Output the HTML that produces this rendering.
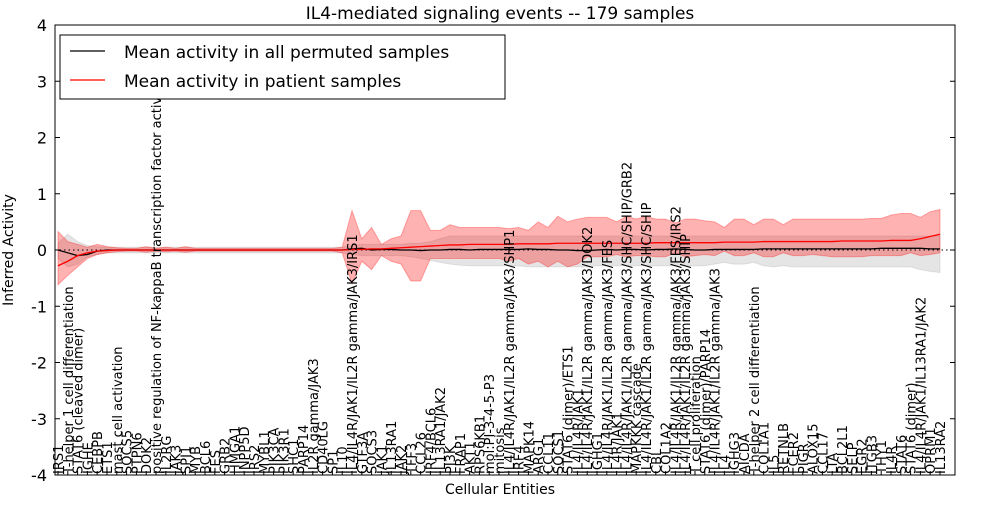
<!DOCTYPE html>
<html><head><meta charset="utf-8"><style>
body{margin:0;background:#fff;}
svg text{font-family:"DejaVu Sans","Liberation Sans",sans-serif;}
</style></head><body>
<svg id="c" width="1000" height="500" xmlns="http://www.w3.org/2000/svg"></svg>
<script>
const labels=["IRS1","T-helper 1 cell differentiation","STAT6 (cleaved dimer)","IGHE","CEBPB","ETS1","mast cell activation","SOCS5","PTPN6","DOK2","positive regulation of NF-kappaB transcription factor activity","IL2RG","JAK3","SPI1","MYB","BCL6","FES","GRB2","HMGA1","INPP5D","IRS2","MYBL1","PIK3CA","PIK3R1","SHC1","PARP14","IL2R gamma/JAK3","CD40LG","SP1","IL10","IL4/IL4R/JAK1/IL2R gamma/JAK3/IRS1","GTF3A","SOCS3","JAK1","IL13RA1","JAK2","TFF3","CCL26","IRF4/BCL6","IL13RA1/JAK2","PI3K","FRAP1","AKT1","RPS6KB1","mol:PI-3-4-5-P3","mitosis","IL4/IL4R/JAK1/IL2R gamma/JAK3/SHP1","IRF4","MAPK14","ARG1","CCL11","SOCS1","STAT6 (dimer)/ETS1","IL4/IL4R/JAK1","IL4/IL4R/JAK1/IL2R gamma/JAK3/DOK2","IGHG1","IL4/IL4R/JAK1/IL2R gamma/JAK3/FES","IL4R/JAK1","IL4/IL4R/JAK1/IL2R gamma/JAK3/SHC/SHIP/GRB2","MAPKKK cascade","IL4/IL4R/JAK1/IL2R gamma/JAK3/SHC/SHIP","CBL","COL1A2","IL4/IL4R/JAK1/IL2R gamma/JAK3/FES/IRS2","IL4/IL4R/JAK1/IL2R gamma/JAK3/SHIP","T cell proliferation","STAT6 (dimer)/PARP14","IL4/IL4R/JAK1/IL2R gamma/JAK3","IL4","IGHG3","AICDA","T-helper 2 cell differentiation","COL1A1","IL5","RETNLB","FCER2","PIGR","ALOX15","CCL17","LTA","BCL2L1","SELP","EGR2","ITGB3","THY1","IL4R","STAT6","STAT6 (dimer)","IL4/IL4R/JAK1/IL13RA1/JAK2","OPRM1","IL13RA2"];
const patientMean=[-0.28,-0.2,-0.1,-0.05,-0.02,-0.01,0,0,0,0,0,0,0,0,0,0,0,0,0,0,0,0,0,0,0,0,0,0,0,0,0.01,0.01,0.02,0.02,0.03,0.04,0.05,0.06,0.07,0.08,0.09,0.09,0.1,0.1,0.1,0.1,0.1,0.11,0.11,0.11,0.11,0.12,0.12,0.12,0.12,0.12,0.12,0.12,0.12,0.12,0.12,0.13,0.13,0.13,0.13,0.13,0.13,0.13,0.14,0.14,0.14,0.14,0.15,0.15,0.15,0.15,0.15,0.15,0.15,0.15,0.16,0.16,0.16,0.16,0.16,0.17,0.17,0.17,0.2,0.24,0.28];
const patientUpper=[0.33,0.15,0.1,0.05,0.1,0.06,0.04,0.03,0.03,0.06,0.03,0.05,0.03,0.06,0.03,0.03,0.03,0.03,0.03,0.03,0.03,0.03,0.03,0.03,0.03,0.03,0.03,0.03,0.03,0.05,0.7,0.2,0.4,0.1,0.2,0.25,0.7,0.7,0.35,0.35,0.45,0.4,0.4,0.4,0.4,0.4,0.38,0.4,0.35,0.5,0.4,0.6,0.5,0.55,0.58,0.58,0.58,0.5,0.6,0.55,0.6,0.55,0.55,0.48,0.55,0.55,0.52,0.5,0.4,0.55,0.55,0.45,0.55,0.55,0.45,0.55,0.55,0.55,0.55,0.55,0.55,0.55,0.55,0.56,0.56,0.62,0.65,0.65,0.58,0.68,0.72];
const patientLower=[-0.62,-0.45,-0.3,-0.15,-0.08,-0.05,-0.03,-0.02,-0.02,-0.04,-0.02,-0.03,-0.02,-0.04,-0.02,-0.02,-0.02,-0.02,-0.02,-0.02,-0.02,-0.02,-0.02,-0.02,-0.02,-0.02,-0.02,-0.02,-0.02,-0.05,-0.6,-0.2,-0.35,-0.1,-0.2,-0.25,-0.55,-0.55,-0.15,-0.15,-0.15,-0.15,-0.15,-0.15,-0.15,-0.15,-0.2,-0.15,-0.25,-0.2,-0.3,-0.2,-0.3,-0.25,-0.12,-0.12,-0.12,-0.08,-0.12,-0.1,-0.1,-0.12,-0.12,-0.05,-0.12,-0.1,-0.08,-0.1,-0.02,-0.1,-0.1,-0.05,-0.12,-0.12,-0.05,-0.1,-0.1,-0.08,-0.1,-0.12,-0.12,-0.12,-0.12,-0.1,-0.1,-0.1,-0.1,-0.05,-0.1,-0.08,-0.05];
const permMean=[0,-0.05,-0.1,-0.08,-0.02,0,0,0,0,0,0,0,0,0,0,0,0,0,0,0,0,0,0,0,0,0,0,0,0,0,0.02,0.03,0,0.01,0.01,0,0,-0.01,0,0,0.01,0.01,0,0.01,0.01,0.01,0.01,0.01,0.02,0.01,0.01,0,0,-0.01,-0.01,0,0.01,0,0.01,0.01,0,0.01,0.01,0.02,0.01,0,0,0.01,0.01,0.01,0.01,0.01,0.02,0.02,0.02,0.02,0.02,0.02,0.02,0.02,0.02,0.02,0.02,0.02,0.03,0.03,0.03,0.03,0.03,0.02,0.02];
const permUpper=[0.12,0.28,0.15,0.08,0.06,0.05,0.05,0.05,0.05,0.05,0.05,0.05,0.05,0.05,0.05,0.05,0.05,0.05,0.05,0.05,0.05,0.05,0.05,0.05,0.05,0.05,0.05,0.05,0.05,0.05,0.08,0.1,0.1,0.1,0.1,0.1,0.12,0.12,0.15,0.2,0.25,0.25,0.25,0.25,0.25,0.25,0.25,0.25,0.25,0.25,0.25,0.25,0.25,0.25,0.25,0.25,0.25,0.25,0.25,0.25,0.25,0.25,0.25,0.25,0.25,0.25,0.25,0.25,0.25,0.25,0.25,0.25,0.25,0.25,0.25,0.25,0.25,0.25,0.25,0.25,0.25,0.25,0.25,0.25,0.25,0.25,0.25,0.25,0.25,0.25,0.25];
const permLower=[-0.15,-0.3,-0.25,-0.12,-0.08,-0.05,-0.05,-0.05,-0.05,-0.05,-0.05,-0.05,-0.05,-0.05,-0.05,-0.05,-0.05,-0.05,-0.05,-0.05,-0.05,-0.05,-0.05,-0.05,-0.05,-0.05,-0.05,-0.05,-0.05,-0.05,-0.08,-0.1,-0.1,-0.1,-0.1,-0.1,-0.12,-0.15,-0.18,-0.22,-0.25,-0.27,-0.28,-0.28,-0.28,-0.28,-0.28,-0.28,-0.3,-0.3,-0.3,-0.3,-0.3,-0.3,-0.3,-0.28,-0.28,-0.28,-0.28,-0.28,-0.28,-0.28,-0.28,-0.28,-0.28,-0.28,-0.28,-0.25,-0.22,-0.25,-0.25,-0.22,-0.28,-0.3,-0.28,-0.3,-0.3,-0.3,-0.3,-0.3,-0.3,-0.3,-0.3,-0.3,-0.3,-0.3,-0.3,-0.3,-0.35,-0.38,-0.4];
const yTicks=[4,3,2,1,0,-1,-2,-3,-4];

const NS="http://www.w3.org/2000/svg",svg=document.getElementById('c');
const L=55,R=955,T=25,B=475;
const xs=i=>58+i*(940-58)/(labels.length-1);
const ys=v=>T+(4-v)*(B-T)/8;
function mk(t,a,p){const e=document.createElementNS(NS,t);for(const k in a)e.setAttribute(k,a[k]);(p||svg).appendChild(e);return e;}
function band(u,l,fill,op){let d="M"+u.map((v,i)=>xs(i)+","+ys(v)).join("L");for(let i=l.length-1;i>=0;i--)d+="L"+xs(i)+","+ys(l[i]);return mk('path',{d:d+"Z",fill:fill,'fill-opacity':op,stroke:fill,'stroke-opacity':op});}
function line(a,c){return mk('path',{d:"M"+a.map((v,i)=>xs(i)+","+ys(v)).join("L"),fill:"none",stroke:c,'stroke-width':1.3});}
const gb=band(permUpper,permLower,"#aaaaaa",0.3);

const rb=band(patientUpper,patientLower,"#ff0000",0.3);

const zl=mk('line',{x1:L,x2:R,y1:ys(0),y2:ys(0),stroke:"#000",'stroke-dasharray':"1.5,3",'stroke-width':1});

const bl=line(permMean,"#000");

const rl=line(patientMean,"#ff0000");

yTicks.forEach(v=>{
  mk('line',{x1:L,x2:L+5,y1:ys(v),y2:ys(v),stroke:"#000"});
  mk('line',{x1:R-5,x2:R,y1:ys(v),y2:ys(v),stroke:"#000"});
  const t=mk('text',{x:L-8,y:ys(v)+6,'text-anchor':"end",'font-size':16});
  t.textContent=v;
  
  
});
labels.forEach((s,i)=>{
  const x=xs(i);
  mk('line',{x1:x,x2:x,y1:B,y2:B-4,stroke:"#000"});
  const t=mk('text',{transform:`translate(${x+5},${B-1}) rotate(-90)`,'font-size':13});
  t.textContent=s;
  
  
});
const fr=mk('rect',{x:L,y:T,width:R-L,height:B-T,fill:"none",stroke:"#000",'stroke-width':1});

const ti=mk('text',{x:500,y:19,'text-anchor':"middle",'font-size':17});ti.textContent="IL4-mediated signaling events -- 179 samples";

const xt=mk('text',{x:500,y:494,'text-anchor':"middle",'font-size':14});xt.textContent="Cellular Entities";

const yt=mk('text',{transform:"translate(13,250) rotate(-90)",'text-anchor':"middle",'font-size':14});yt.textContent="Inferred Activity";

const lg=mk('g',{});

mk('rect',{x:60,y:35,width:445,height:64,fill:"#fff",stroke:"#000"},lg);
mk('line',{x1:70,x2:105,y1:51,y2:51,stroke:"#000",'stroke-width':1.3},lg);
mk('line',{x1:70,x2:105,y1:80,y2:80,stroke:"#f00",'stroke-width':1.3},lg);
const l1=mk('text',{x:124,y:58,'font-size':17},lg);l1.textContent="Mean activity in all permuted samples";

const l2=mk('text',{x:124,y:87,'font-size':17},lg);l2.textContent="Mean activity in patient samples";

</script>
</body></html>
